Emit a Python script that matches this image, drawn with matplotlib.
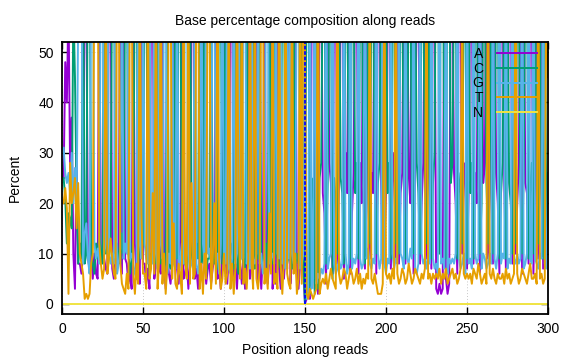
import numpy as np
import matplotlib
matplotlib.use("Agg")
import matplotlib.pyplot as plt

plt.rcParams['font.family'] = ['Liberation Sans', 'DejaVu Sans']

# percentage of each base per read position (1..300), values above ~52 are off the chart
A = [25,48,40,60,27,37,10,3,30,8,
     8,6,10,70,65,9,7,12,5,10,
     6,5,66,8,10,9,7,6,70,64,
     7,5,9,8,10,70,6,72,9,8,
     4,6,3,66,12,5,10,4,68,8,
     8,4,7,3,64,70,5,8,18,7,
     6,66,8,3,10,6,4,8,70,22,
     7,4,10,68,5,6,8,3,9,72,
     70,5,7,3,10,6,68,9,4,7,
     8,4,7,9,66,5,7,3,10,70,
     9,4,10,70,64,5,9,3,10,8,
     4,9,3,10,68,5,8,7,24,70,
     4,9,3,10,70,6,4,9,66,3,
     9,4,68,7,3,9,5,10,7,66,
     4,9,10,70,7,3,8,10,6,0,
     1,2,1,68,70,3,20,2,72,66,
     22,18,4,70,28,24,6,68,72,8,
     25,66,70,5,30,22,68,6,18,26,
     70,64,6,28,20,68,7,72,24,9,
     26,22,68,6,70,66,24,8,10,22,
     70,64,7,24,30,9,66,8,22,26,
     68,8,70,26,20,72,6,28,64,70,
     8,20,28,68,9,66,24,7,70,64,
     3,2,4,2,3,66,5,2,4,68,
     64,26,20,6,70,66,10,24,28,7,
     22,70,64,8,26,20,68,6,72,24,
     28,68,9,70,22,8,66,26,20,6,
     70,64,24,7,26,68,72,8,22,10,
     20,28,70,6,66,24,22,8,70,64,
     6,24,68,9,26,70,7,22,10,14]

C = [25,21,12,18,17,15,60,45,22,8,
     12,9,72,8,10,76,80,10,8,6,
     12,9,14,10,8,72,10,12,9,13,
     72,78,10,12,9,8,14,10,70,74,
     10,6,9,14,72,76,8,11,10,12,
     70,74,12,6,10,9,11,8,72,9,
     8,12,6,9,74,8,7,11,9,72,
     9,74,70,10,12,8,7,10,76,9,
     8,10,12,9,74,8,10,72,6,9,
     9,72,10,8,12,7,74,70,8,9,
     72,9,8,10,12,7,74,9,6,76,
     10,8,6,72,9,8,10,74,7,9,
     9,74,8,9,10,12,7,72,10,8,
     72,10,9,8,7,74,70,9,8,10,
     9,7,72,8,10,8,9,74,8,0,
     75,80,2,25,22,2,72,3,25,28,
     70,74,8,24,64,68,5,25,20,10,
     68,25,22,8,62,70,24,9,72,66,
     22,28,9,64,72,25,8,20,68,12,
     66,70,24,10,24,28,70,9,12,70,
     22,28,9,68,62,12,26,10,70,64,
     24,9,22,66,72,20,10,64,28,22,
     10,72,64,26,12,26,70,9,24,30,
     85,88,10,86,84,26,9,88,82,24,
     28,66,72,9,22,26,12,68,64,9,
     70,22,28,9,66,72,24,10,20,68,
     64,24,12,22,70,10,26,66,72,9,
     22,28,68,9,66,24,20,10,70,12,
     72,64,22,10,26,68,70,9,22,28,
     10,68,24,12,66,22,9,70,12,15]

G = [31,26,24,26,22,30,20,27,18,58,
     70,75,8,14,16,9,6,68,74,12,
     9,11,8,72,75,10,12,74,10,8,
     10,8,74,6,8,11,72,9,12,10,
     74,9,10,8,6,5,75,12,9,70,
     12,9,8,76,14,8,72,10,7,74,
     12,9,72,75,6,10,8,74,8,7,
     72,6,9,12,8,74,78,10,7,8,
     10,72,8,6,9,76,12,8,74,10,
     11,8,74,72,9,10,6,12,76,8,
     8,74,7,6,9,76,8,10,72,9,
     9,72,76,8,10,7,70,9,8,10,
     74,8,10,6,7,72,76,8,9,10,
     8,74,10,9,72,8,10,7,76,9,
     72,10,8,9,74,76,7,8,10,50,
     1,2,85,3,5,85,4,6,5,7,
     6,8,80,7,9,10,82,8,6,7,
     9,7,8,82,10,6,8,80,7,9,
     8,10,80,9,7,8,82,9,11,8,
     7,9,8,80,10,7,9,80,8,6,
     9,8,80,10,7,9,8,78,10,9,
     7,80,9,8,11,9,80,7,6,8,
     78,10,8,9,7,10,8,80,9,7,
     8,6,82,8,9,7,82,6,9,8,
     9,8,10,80,9,7,8,10,6,80,
     8,9,7,78,10,8,9,80,7,10,
     9,7,8,10,8,78,9,7,10,80,
     8,10,9,80,7,9,8,78,9,8,
     10,8,9,80,7,8,10,79,9,8,
     80,9,8,7,10,9,80,8,7,26]

T = [20,23,19,2,28,20,22,25,15,24,
     10,8,6,1,2,1,2,8,10,72,
     70,74,12,8,5,7,68,6,9,13,
     9,6,5,70,68,8,4,3,2,6,
     3,72,70,6,2,8,4,66,18,6,
     6,3,70,5,7,22,6,68,3,9,
     68,4,10,2,8,72,70,5,16,4,
     3,8,6,2,66,9,5,70,4,24,
     5,6,70,74,3,8,2,10,5,68,
     70,3,8,20,4,72,9,3,5,10,
     4,6,72,3,8,2,7,70,16,5,
     72,4,7,3,9,74,8,3,72,5,
     3,7,72,70,4,7,3,18,6,72,
     4,6,3,72,8,2,9,70,6,4,
     3,70,6,10,2,5,72,4,72,50,
     2,1,3,2,1,2,3,82,2,4,
     5,4,6,3,5,7,5,4,3,76,
     6,4,5,7,6,3,5,7,6,4,
     5,7,4,6,3,5,4,6,5,72,
     5,4,6,4,2,2,2,4,72,6,
     5,6,4,7,5,73,6,4,5,7,
     6,4,5,8,6,4,5,7,6,5,
     4,6,5,7,73,5,6,4,6,5,
     6,5,7,4,6,5,7,4,5,6,
     7,5,6,4,5,7,72,6,5,6,
     5,6,4,7,6,5,8,6,4,5,
     6,4,73,6,5,7,5,4,6,5,
     5,6,4,7,5,6,4,5,6,72,
     6,4,5,7,6,5,4,6,8,5,
     5,6,4,73,5,6,4,5,72,45]

N = [0] * 300

bases = ["A", "C", "G", "T", "N"]
colors = ["#9400d3", "#009e73", "#56b4e9", "#e69f00", "#f0e442"]
read_boundary = 150

pos = np.arange(1, 301)

fig = plt.figure(figsize=(5.76, 3.6), dpi=100)
ax = fig.add_axes([62/576, 1 - 314/360, 486/576, 272/360])

for i, (b, vals) in enumerate(zip(bases, [A, C, G, T, N])):
    ax.plot(pos, vals, color=colors[i], lw=1.4, label=b, zorder=3 + i)

ax.vlines(read_boundary, 0, 52, color="#0000ff", lw=1.3, linestyles=(0, (2, 1)), zorder=9)

ax.set_xlim(0, 300)
ax.set_ylim(-2, 52)
ax.set_xticks(np.arange(0, 301, 50))
ax.set_yticks(np.arange(0, 51, 10))
ax.tick_params(direction="in", length=5, top=True, right=True, labelsize=10, width=1, pad=6)
ax.grid(True, color="#c8c8c8", ls=(0, (1, 2)), lw=0.7)
ax.set_axisbelow(True)
for s in ax.spines.values():
    s.set_linewidth(1.3)
    s.set_zorder(20)

ax.set_title("Base percentage composition along reads", fontsize=10, pad=12)
ax.set_xlabel("Position along reads", fontsize=10, labelpad=5)
ax.set_ylabel("Percent", fontsize=10, labelpad=12)

leg = ax.legend(loc="upper right", bbox_to_anchor=(537/576, 1 - 47/360),
                bbox_transform=fig.transFigure, frameon=False, markerfirst=False,
                fontsize=10, handlelength=2.9, handletextpad=1.0, labelspacing=0.05,
                borderaxespad=0, borderpad=0)
leg.set_zorder(10)

fig.savefig("out.png", dpi=100)
